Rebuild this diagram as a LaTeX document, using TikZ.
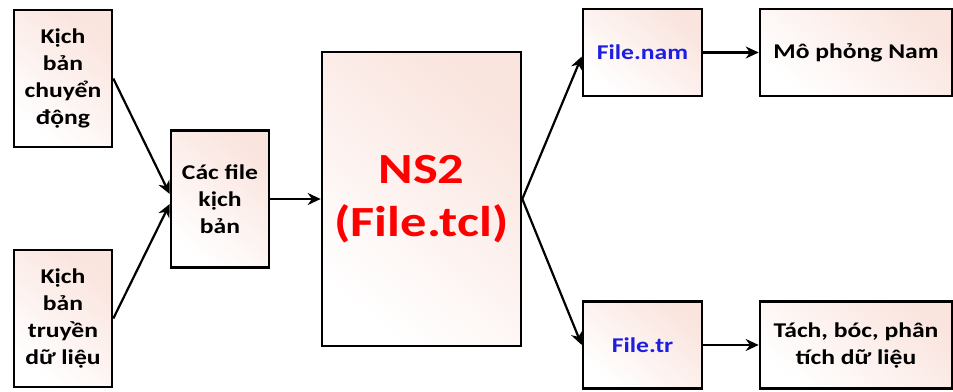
\documentclass[tikz,border=0pt]{standalone}
\usepackage{fontspec}
\setmainfont{Carlito}[FakeStretch=1.22]
\usetikzlibrary{arrows.meta}

\definecolor{boxpink}{RGB}{250,228,222}
\definecolor{nsred}{RGB}{255,0,0}
\definecolor{fileblue}{RGB}{30,30,225}

\begin{document}
\begin{tikzpicture}[
  x=1pt, y=-1pt,
  box/.style   = {draw, line width=2.6pt, inner sep=2pt, align=center,
                  top color=boxpink, bottom color=white, shading angle=-40,
                  font=\fontsize{21}{27}\selectfont\bfseries},
  small/.style = {box, minimum width=98pt, minimum height=137pt},
  file/.style  = {box, minimum width=119pt, minimum height=87pt,
                  text=fileblue},
  tool/.style  = {box, minimum width=192pt, minimum height=87pt},
  sim/.style   = {box, minimum width=199pt, minimum height=294pt,
                  text=nsred, font=\fontsize{43}{53}\selectfont\bfseries},
  flow/.style  = {line width=2.2pt, -{Stealth[length=13pt,width=12pt]}},
]
  \useasboundingbox (0,0) rectangle (953,391);

  \node[small] (motion) at (63,78.5)  {Kịch\\bản\\chuyển\\động};
  \node[small] (traffic) at (63,318.5) {Kịch\\bản\\truyền\\dữ liệu};
  \node[small] (scripts) at (220,199) {Các file\\kịch\\bản};
  \node[sim] (ns) at (421.5,199) {NS2\\(File.tcl)};
  \node[file] (nam) at (642.5,52.5) {File.nam};
  \node[file] (trace) at (642.5,345) {File.tr};
  \node[tool] (anim) at (856,52.5) {Mô phỏng Nam};
  \node[tool] (parse) at (856,345) {Tách, bóc, phân\\tích dữ liệu};

  % scenario files go into the simulator
  \draw[flow] (motion.east) -- ([yshift=5pt]scripts.west);
  \draw[flow] (traffic.east) -- ([yshift=-5pt]scripts.west);
  \draw[flow] (scripts) -- (ns);

  % the two outputs of a run
  \draw[flow] (ns.east) -- ([yshift=-4pt]nam.west);
  \draw[flow] (ns.east) -- (trace.west);
  \draw[flow] (nam) -- (anim);
  \draw[flow] (trace) -- (parse);
\end{tikzpicture}
\end{document}
